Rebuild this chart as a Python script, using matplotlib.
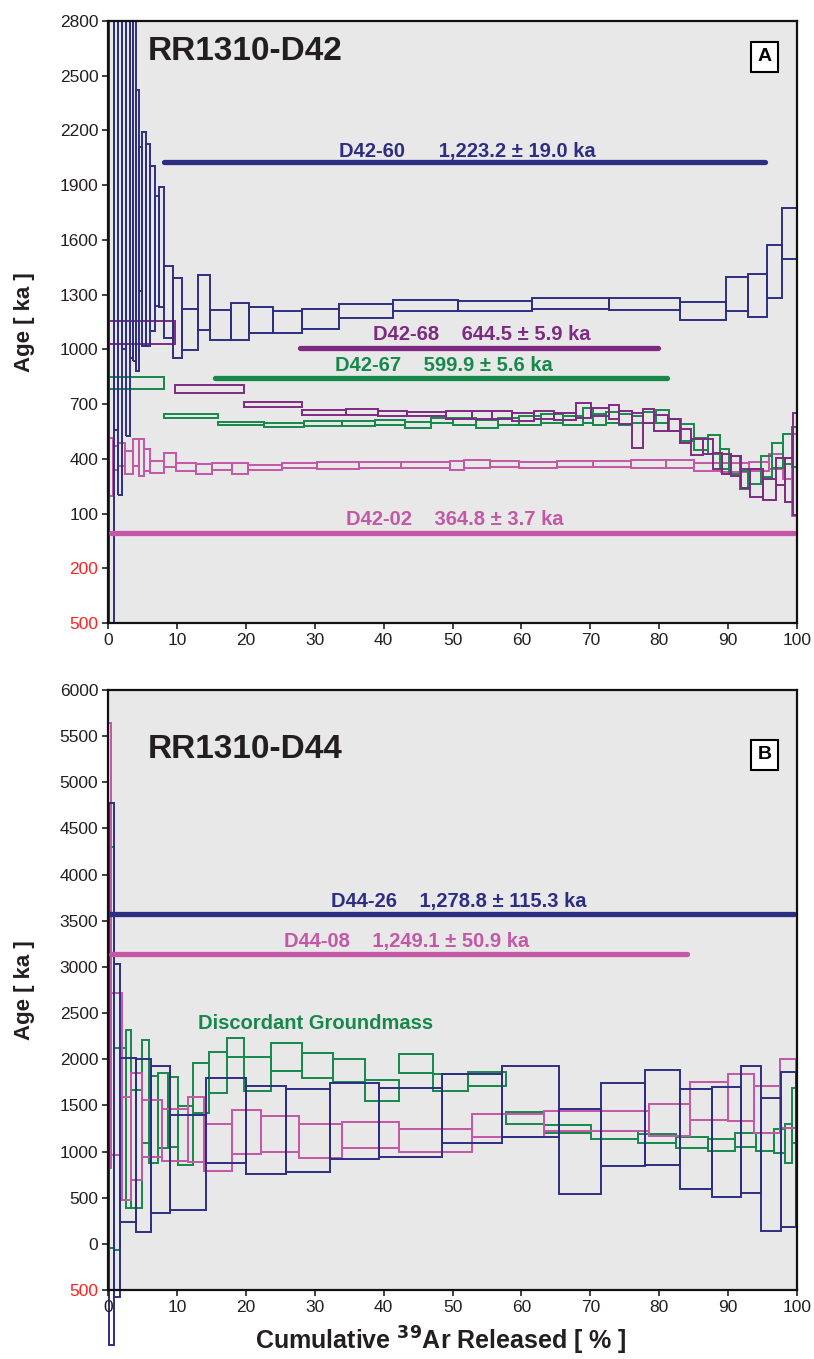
import matplotlib.pyplot as plt
from matplotlib.patches import Rectangle

plt.rcParams['font.family'] = ['Liberation Sans', 'DejaVu Sans']

navy = '#2d2e83'
purple = '#7e2a82'
green = '#16884a'
pink = '#c457a6'

# ---- panel A : RR1310-D42 (cumulative % boundaries, upper / lower age of each step, ka)
d42_60_x = [0.2, 0.8, 1.4, 2.0, 2.6, 3.2, 3.6, 4.0, 4.5, 5.0, 5.5, 6.1, 6.75, 7.4, 8.1, 9.5, 10.7, 13.1, 14.8,
            17.8, 20.4, 24.0, 28.2, 33.5, 41.3, 50.8, 61.5, 72.7, 83.0, 89.7, 92.9, 95.6, 97.8, 100]
d42_60_hi = [4000, 3800, 3600, 3400, 3300, 3200, 2950, 2420, 2110, 2190, 2125, 2005, 1840, 1890, 1455, 1390, 1220,
             1410, 1215, 1255, 1230, 1210, 1220, 1250, 1268, 1264, 1279, 1284, 1261, 1398, 1414, 1570, 1774]
d42_60_lo = [-800, 560, 200, 1000, 525, 950, 937, 882, 1320, 1020, 1020, 1100, 1240, 1230, 1065, 950, 997,
             1107, 1050, 1054, 1092, 1087, 1112, 1171, 1208, 1208, 1220, 1217, 1160, 1208, 1180, 1281, 1495]

d42_68_x = [0, 9.7, 19.8, 28.2, 34.5, 39.2, 43.4, 49.0, 52.9, 55.8, 58.7, 61.9, 64.8, 67.9, 70.1, 72.7, 74.2,
            76.1, 77.6, 79.3, 81.3, 83.0, 84.6, 86.3, 87.8, 89.1, 90.4, 91.9, 93.2, 95.1, 97.0, 98.3, 99.4, 100]
d42_68_hi = [1156, 803, 712, 666, 672, 663, 659, 660, 663, 663, 650, 663, 650, 705, 681, 696, 663, 653, 672,
             640, 617, 566, 507, 511, 434, 425, 416, 343, 343, 288, 407, 407, 653]
d42_68_lo = [1027, 761, 683, 641, 639, 635, 635, 620, 621, 621, 608, 621, 613, 626, 635, 617, 590, 462, 599,
             553, 553, 489, 420, 425, 343, 315, 306, 242, 193, 175, 255, 164, 90]

d42_67_x = [0, 8.1, 16.0, 22.7, 28.5, 33.9, 38.7, 43.1, 46.9, 50.0, 53.4, 56.6, 59.7, 62.9, 66.0, 68.9, 70.4,
            72.3, 74.2, 76.1, 77.6, 79.6, 81.4, 83.2, 85.1, 87.1, 88.8, 90.2, 91.7, 92.9, 94.8, 96.4, 97.9, 99.3, 100]
d42_67_hi = [846, 644, 604, 599, 608, 608, 613, 602, 626, 626, 613, 626, 635, 648, 635, 677, 648, 659, 648,
             635, 659, 668, 621, 593, 516, 531, 452, 416, 334, 346, 416, 485, 535, 577]
d42_67_lo = [783, 623, 584, 573, 580, 580, 586, 571, 599, 586, 571, 586, 586, 599, 586, 595, 586, 599, 586,
             599, 595, 599, 553, 498, 449, 425, 343, 315, 233, 260, 303, 352, 370, 357]

d42_02_x = [0.1, 0.7, 1.4, 2.5, 3.6, 4.5, 5.2, 6.1, 8.1, 9.8, 12.8, 15.1, 18.0, 20.3, 25.3, 30.4, 36.4, 42.5,
            49.6, 51.7, 55.4, 59.7, 65.2, 70.4, 75.9, 81.0, 85.1, 89.0, 93.1, 96.0, 97.9, 99.3, 100]
d42_02_hi = [516, 470, 484, 443, 507, 507, 456, 388, 430, 376, 370, 376, 376, 368, 379, 382, 380, 385, 388,
             392, 388, 383, 388, 388, 392, 392, 379, 379, 383, 425, 407, 535]
d42_02_lo = [195, 340, 361, 315, 361, 306, 334, 324, 357, 334, 319, 339, 319, 339, 348, 345, 350, 348, 339,
             348, 357, 352, 357, 357, 352, 352, 334, 328, 334, 343, 288, 86]

# plateau bars A: label, start %, end %, drawn at age, label position
plateaus_a = [('D42-60      1,223.2 \u00b1 19.0 ka', 8.1, 95.4, 2027, 52.2, 2087, navy),
              ('D42-68    644.5 \u00b1 5.9 ka', 27.8, 79.8, 1006, 54.3, 1083, purple),
              ('D42-67    599.9 \u00b1 5.6 ka', 15.6, 81.2, 842, 48.8, 913, green),
              ('D42-02    364.8 \u00b1 3.7 ka', 0.5, 99.6, -8, 50.3, 68, pink)]

# ---- panel B : RR1310-D44
d44_26_x = [0.2, 0.87, 1.7, 4.0, 6.3, 9.0, 14.2, 20.0, 25.9, 32.2, 39.3, 48.5, 57.2, 65.4, 71.6, 78.0, 83.0,
            87.6, 91.8, 94.8, 97.7, 99.9]
d44_26_hi = [4776, 3028, 2017, 2003, 1927, 1396, 1793, 1714, 1674, 1746, 1685, 1840, 1930, 1457, 1739, 1883,
             1674, 1703, 1930, 1576, 1865]
d44_26_lo = [-1100, -575, 240, 132, 331, 367, 872, 757, 782, 916, 937, 1089, 1161, 540, 843, 854, 591, 511,
             547, 143, 186]

gm_x = [0.2, 0.9, 1.7, 2.6, 3.4, 4.9, 5.95, 7.3, 8.7, 10.2, 12.4, 14.7, 17.3, 19.8, 23.6, 28.1, 32.6, 37.3,
        42.2, 47.1, 52.2, 57.7, 63.3, 70.1, 76.9, 82.4, 87.1, 91.0, 94.1, 96.7, 98.3, 99.3, 99.9]
gm_hi = [4300, 2118, 2118, 2317, 1667, 2208, 1822, 1847, 1804, 1497, 1963, 2082, 2226, 2020, 2180, 2071, 1999,
         1775, 2057, 1840, 1858, 1425, 1288, 1226, 1190, 1154, 1132, 1205, 1205, 1241, 1298, 1685]
gm_lo = [-50, -66, 475, 385, 385, 1089, 880, 1042, 1053, 854, 1421, 1638, 2020, 1660, 1876, 1797, 1757, 1548,
         1855, 1660, 1710, 1298, 1204, 1136, 1089, 1035, 1006, 1053, 1010, 988, 880, 1089]

d44_08_x = [0.0, 0.45, 2.1, 3.4, 5.0, 7.9, 11.6, 14.0, 18.0, 22.2, 27.7, 34.0, 42.2, 52.8, 63.3, 78.5, 84.5,
            90.0, 93.7, 97.5, 99.9]
d44_08_hi = [5640, 2714, 1595, 1847, 1558, 1461, 1595, 1295, 1450, 1385, 1295, 1316, 1241, 1407, 1443, 1515,
             1757, 1836, 1714, 2003]
d44_08_lo = [820, 963, 475, 692, 944, 901, 890, 793, 973, 999, 926, 1035, 999, 1161, 1226, 1172, 1342, 1331,
             1204, 1251]

plateaus_b = [('D44-26    1,278.8 \u00b1 115.3 ka', 0.3, 99.6, 3570, 50.9, 3707, navy),
              ('D44-08    1,249.1 \u00b1 50.9 ka', 0.5, 84.1, 3136, 43.3, 3274, pink)]

yticks_a = list(range(-500, 2801, 300))
yticks_b = list(range(-500, 6001, 500))


def spectrum(ax, x, hi, lo, color, clip=True):
    for i in range(len(hi)):
        ax.add_patch(Rectangle((x[i], lo[i]), x[i + 1] - x[i], hi[i] - lo[i], fill=False,
                               ec=color, lw=1.4, clip_on=clip))


def plateau(ax, items):
    for label, x0, x1, y, tx, ty, c in items:
        ax.plot([x0, x1], [y, y], color=c, lw=3.8, solid_capstyle='round')
        ax.text(tx, ty, label, color=c, fontsize=14.5, fontweight='bold', ha='center', va='center')


def style(ax, ticks, title, letter, title_y, letter_y):
    ax.set_facecolor('#e8e8e8')
    ax.set_xlim(0, 100)
    ax.set_ylim(ticks[0], ticks[-1])
    ax.set_xticks(range(0, 101, 10))
    ax.set_yticks(ticks)
    ax.set_yticklabels([str(abs(t)) for t in ticks])
    ax.tick_params(labelsize=12.5, length=4, width=1.2, colors='#231f20', pad=3)
    for lbl, t in zip(ax.get_yticklabels(), ticks):
        if t < 0:
            lbl.set_color('#ff2020')
    for s in ax.spines.values():
        s.set_linewidth(1.6)
        s.set_color('#111111')
    ax.set_ylabel('Age [ ka ]', fontsize=16, fontweight='bold', color='#231f20')
    ax.yaxis.set_label_coords(-0.106, 0.5)
    ax.text(5.7, title_y, title, fontsize=24, fontweight='bold', color='#231f20', ha='left', va='center')
    ax.text(95.3, letter_y, letter, fontsize=14, fontweight='bold', ha='center', va='center',
            bbox=dict(boxstyle='square,pad=0.35', fc='white', ec='black', lw=1.5))


fig = plt.figure(figsize=(8.14, 13.59), dpi=100)
axA = fig.add_axes([108 / 814, 1 - 623 / 1359, 689 / 814, 602 / 1359])
axB = fig.add_axes([108 / 814, 1 - 1290 / 1359, 689 / 814, 600 / 1359])

spectrum(axA, d42_02_x, d42_02_hi, d42_02_lo, pink)
spectrum(axA, d42_67_x, d42_67_hi, d42_67_lo, green)
spectrum(axA, d42_68_x, d42_68_hi, d42_68_lo, purple)
spectrum(axA, d42_60_x, d42_60_hi, d42_60_lo, navy)
plateau(axA, plateaus_a)
style(axA, yticks_a, 'RR1310-D42', 'A', 2635, 2603)

spectrum(axB, gm_x, gm_hi, gm_lo, green, clip=False)
spectrum(axB, d44_08_x, d44_08_hi, d44_08_lo, pink, clip=False)
spectrum(axB, d44_26_x, d44_26_hi, d44_26_lo, navy, clip=False)
plateau(axB, plateaus_b)
axB.text(30.1, 2389, 'Discordant Groundmass', color=green, fontsize=14.5, fontweight='bold',
         ha='center', va='center')
style(axB, yticks_b, 'RR1310-D44', 'B', 5350, 5296)
axB.set_xlabel(r'Cumulative $\mathbf{^{39}}$Ar Released [ % ]', fontsize=18, fontweight='bold',
               color='#231f20')
axB.xaxis.set_label_coords(0.483, -0.058)

fig.savefig('out.png', dpi=100)
